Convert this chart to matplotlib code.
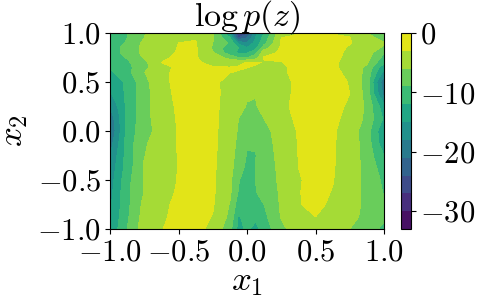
import numpy as np
import matplotlib
matplotlib.use('Agg')
import matplotlib.pyplot as plt

plt.rcParams['mathtext.fontset'] = 'cm'
plt.rcParams['font.family'] = 'serif'
plt.rcParams['font.serif'] = ['cmr10', 'DejaVu Serif']
plt.rcParams['axes.formatter.use_mathtext'] = True

# grid
x1 = [-1, -.875, -.75, -.625, -.5, -.375, -.25, -.125, -.0625, 0, .0625, .125, .25, .375, .5, .625, .75, .875, 1]
x2 = [1, .95, .9, .85, .8, .75, .7, .65, .6, .5, .375, .25, .125, 0, -.125, -.25, -.375, -.5, -.625, -.75, -.875, -1]
log_p = [
    [-9.5, -9, -6.2, -4.4, -3.6, -3.6, -5.5, -16, -29, -25, -16, -12, -3.3, -3.2, -3.2, -3.2, -3.5, -6, -8],
    [-10.5, -9, -6, -4.3, -3.3, -3.2, -5.6, -11.5, -24, -21, -15, -11, -3, -2.4, -2.3, -2.4, -2.9, -5, -7],
    [-10.5, -8.8, -5.3, -4.2, -3, -2.8, -6, -9.5, -16, -18, -14, -10, -2.7, -2.3, -2.2, -2.3, -2.9, -4, -5.8],
    [-10, -8.3, -5, -4, -2.9, -2.7, -6.3, -11, -12, -15, -13, -7.5, -2.6, -2.2, -2.2, -2.3, -3.2, -4.2, -6.5],
    [-10, -8.3, -5, -3.9, -2.8, -2.7, -5.8, -11, -12.5, -12.5, -10, -4, -2.6, -2.2, -2.2, -2.4, -3.4, -4.5, -8.7],
    [-10.5, -8.8, -5.7, -3.4, -2.6, -2.8, -4.5, -7, -9, -9.2, -7.5, -2.8, -2.7, -2.2, -2.2, -2.5, -3.5, -5, -10],
    [-11.5, -9.5, -6.8, -3, -2.6, -2.8, -3.4, -4.3, -3.5, -2.9, -2.8, -3.1, -3.1, -2.3, -2.2, -2.7, -3.6, -5.5, -11.5],
    [-12, -10, -6.8, -3.7, -2.6, -2.3, -2.9, -2.95, -2.85, -2.95, -3.2, -3.4, -3.4, -2.3, -2.2, -2.7, -3.6, -6.7, -14],
    [-12.5, -10, -6.1, -3.4, -2.6, -2.2, -2.7, -2.95, -3.1, -3.3, -3.5, -3.6, -3.4, -2.3, -2.2, -2.6, -3.4, -7, -16],
    [-14.5, -11.3, -7, -3.6, -2.4, -2.2, -2.5, -3.7, -3.9, -4.2, -4.2, -4, -3.9, -2.4, -2.2, -2.4, -3.1, -7.4, -20.5],
    [-15.5, -11.3, -7.3, -3.8, -2.5, -2.2, -2.4, -3.8, -4.3, -5.5, -5.9, -4.6, -3.8, -2.4, -2.2, -2.3, -3, -7.1, -19],
    [-18, -11.3, -7, -4.2, -2.6, -2.2, -2.4, -4, -4.8, -6.3, -6.2, -5.2, -3.5, -2.4, -2.2, -2.4, -3.3, -6.6, -14],
    [-20, -11.3, -7, -4.5, -2.7, -2.2, -2.4, -4.2, -6, -7.2, -7, -6, -4, -2.5, -2.2, -2.5, -3.7, -6.8, -12.5],
    [-21, -11, -7, -5, -2.8, -2.2, -2.4, -4.4, -6.3, -8, -8, -7, -4.5, -2.8, -2.2, -2.6, -4.4, -7.6, -14.5],
    [-19.5, -10.7, -6.4, -4.4, -2.8, -2.2, -2.4, -4.7, -6.7, -8.7, -8.8, -7.3, -4.8, -2.9, -2.2, -2.7, -4.3, -7.4, -14],
    [-18, -10.7, -6.1, -4.2, -2.9, -2.2, -2.4, -4.9, -7, -9.2, -9.1, -7.5, -5, -2.95, -2.2, -2.7, -4.3, -7.2, -12],
    [-17, -10.7, -5.7, -4.1, -2.9, -2.2, -2.5, -5.1, -7.5, -9.8, -9, -7.7, -5.2, -3, -2.2, -2.8, -4.4, -7, -10.5],
    [-16.5, -10, -5.8, -4, -2.9, -2.2, -2.5, -5.3, -8.8, -10.3, -9, -7.9, -5.3, -3.2, -2.3, -2.9, -4.4, -6.9, -9.6],
    [-16, -9.7, -5.9, -4, -2.7, -2.2, -2.6, -5.5, -9.2, -10.5, -9.1, -8.3, -5.5, -3.1, -2.4, -3.1, -4.5, -6.8, -9.2],
    [-15.5, -9.8, -5.2, -3.4, -2.6, -2.2, -2.75, -6.2, -10.5, -11, -10.5, -9, -5.6, -3.1, -2.6, -3.3, -4.6, -6.8, -8.6],
    [-15, -9.5, -4.8, -3.4, -2.3, -2.2, -3.1, -6.7, -12.3, -11, -11.3, -9.8, -5.8, -3.8, -3, -3.7, -4.8, -7.1, -8.6],
    [-14.5, -9, -4.3, -3.1, -2.2, -2.2, -3.7, -8, -13, -11.5, -13, -10.7, -6.7, -4.5, -4, -4.2, -6, -8, -9.5],
]
levels = np.arange(-33, 1, 3)
x_ticks = [-1.0, -0.5, 0.0, 0.5, 1.0]
x_labels = ['$-1.0$', '$-0.5$', '$0.0$', '$0.5$', '$1.0$']
bar_ticks = [0, -10, -20, -30]
bar_labels = ['$0$', '$-10$', '$-20$', '$-30$']

W, H = 478, 304
fig = plt.figure(figsize=(W / 100, H / 100), dpi=100)
ax = fig.add_axes([110 / W, 1 - 229 / H, 274 / W, 196 / H])
cax = fig.add_axes([401 / W, 1 - 229 / H, 10 / W, 196 / H])

cs = ax.contourf(x1, x2, np.array(log_p), levels=levels, cmap='viridis')
ax.set_xticks(x_ticks)
ax.set_xticklabels(x_labels)
ax.set_yticks(x_ticks)
ax.set_yticklabels(x_labels)
ax.tick_params(labelsize=22, pad=3)
ax.tick_params(axis='x', pad=4)
ax.set_xlabel('$x_1$', fontsize=25, labelpad=0)
ax.set_ylabel('$x_2$', fontsize=25, labelpad=5)
ax.set_title(r'$\log p(z)$', fontsize=24.5, y=1.0, pad=5.5)

cb = fig.colorbar(cs, cax=cax)
cb.set_ticks(bar_ticks)
cb.set_ticklabels(bar_labels)
cb.ax.tick_params(labelsize=22, pad=3)

fig.savefig('out.png', dpi=100)
